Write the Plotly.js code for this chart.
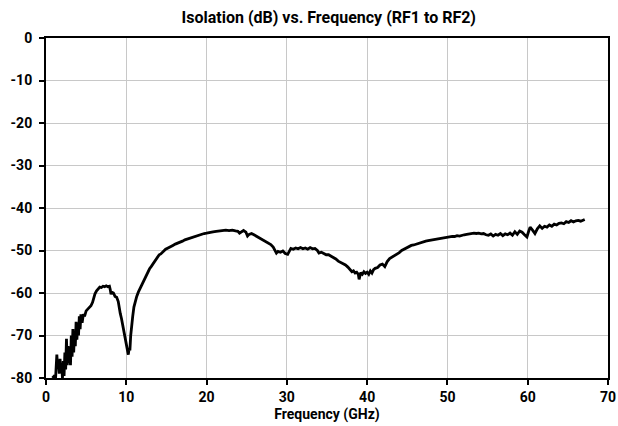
<!DOCTYPE html>
<html>
<head>
<meta charset="utf-8">
<script src="https://cdn.plot.ly/plotly-3.0.1.min.js"></script>
<style>html,body{margin:0;padding:0;background:#fff;}#chart{width:618px;height:426px;}</style>
</head>
<body>
<div id="chart"></div>
<script>
const freqGHz = [0.8,1.0,1.2,1.35,1.45,1.55,1.65,1.75,1.85,1.95,2.05,2.15,2.25,2.35,2.45,2.55,2.65,2.75,2.85,2.95,3.05,3.15,3.25,3.35,3.45,3.55,3.65,3.75,3.85,3.95,4.05,4.15,4.25,4.35,4.5,4.65,4.8,5.0,5.2,5.4,5.6,5.8,5.95,6.1,6.3,6.5,6.7,6.9,7.1,7.3,7.5,7.7,7.9,8.0,8.1,8.2,8.4,8.6,8.8,9.0,9.1,9.25,9.4,9.55,9.7,9.85,9.95,10.05,10.15,10.25,10.35,10.45,10.55,10.65,10.8,10.95,11.1,11.3,11.5,11.7,11.9,12.1,12.3,12.5,12.7,12.9,13.1,13.3,13.5,13.7,13.9,14.1,14.3,14.6,14.9,15.2,15.5,15.8,16.1,16.4,16.7,17.0,17.3,17.6,17.9,18.2,18.5,18.8,19.1,19.4,19.7,20.0,20.4,20.8,21.2,21.6,22.0,22.4,22.8,23.2,23.6,23.9,24.1,24.3,24.6,24.9,25.1,25.3,25.6,25.9,26.2,26.5,26.8,27.1,27.4,27.7,28.0,28.3,28.5,28.7,28.9,29.2,29.5,29.8,30.1,30.3,30.5,30.8,31.1,31.4,31.7,32.0,32.3,32.6,32.9,33.2,33.5,33.8,34.0,34.3,34.6,34.9,35.2,35.5,35.8,36.1,36.4,36.7,37.0,37.3,37.6,37.9,38.1,38.3,38.5,38.7,38.9,39.0,39.2,39.4,39.6,39.8,40.0,40.2,40.4,40.6,40.8,41.0,41.3,41.6,41.9,42.2,42.5,42.8,43.1,43.4,43.7,44.0,44.3,44.6,44.9,45.2,45.5,45.8,46.1,46.4,46.7,47.0,47.3,47.6,47.9,48.2,48.5,48.8,49.1,49.4,49.7,50.0,50.3,50.6,50.9,51.2,51.5,51.8,52.1,52.4,52.7,53.0,53.3,53.6,53.9,54.2,54.5,54.8,55.1,55.4,55.7,56.0,56.3,56.6,56.9,57.2,57.5,57.8,58.1,58.4,58.7,59.0,59.3,59.6,59.9,60.1,60.3,60.6,60.9,61.2,61.5,61.8,62.1,62.4,62.7,63.0,63.3,63.6,63.9,64.2,64.5,64.8,65.1,65.4,65.7,66.0,66.3,66.6,66.9,67.1];
const isolationDb = [-80,-79.6,-79.8,-74.5,-77.5,-76,-79,-75.5,-78.5,-77,-80,-76,-79.5,-74,-78,-70.8,-77,-72.5,-76.5,-73,-77,-70,-75,-68.5,-74,-69,-72.5,-66.8,-71,-67,-70,-65.5,-68.5,-65,-67,-65,-65.5,-64.2,-63.8,-63.5,-63,-62.2,-61,-60.2,-59.5,-59,-58.6,-58.7,-58.4,-58.5,-58.3,-58.5,-58.4,-59.2,-60.3,-59.8,-60,-60.8,-61,-62,-63.5,-64.8,-66,-67.5,-69,-70.5,-71.5,-72.5,-74,-74.5,-73,-73.5,-70,-67.5,-65.5,-63.3,-62,-60.8,-59.8,-59,-58.3,-57.3,-56.3,-55.7,-55,-54.3,-53.8,-53.2,-52.6,-52,-51.5,-51,-50.8,-50.2,-49.7,-49.4,-49,-48.8,-48.5,-48.3,-48,-47.8,-47.5,-47.3,-47.1,-46.9,-46.7,-46.5,-46.3,-46.2,-46,-45.9,-45.7,-45.6,-45.5,-45.4,-45.3,-45.2,-45.3,-45.2,-45.4,-45.5,-45.9,-45.6,-45.3,-45.7,-46.6,-46.2,-46,-46.3,-46.6,-46.9,-47.3,-47.6,-47.9,-48.3,-48.6,-49.2,-49.9,-50.6,-50.2,-50.4,-50.1,-50.7,-50.9,-50.2,-49.5,-49.7,-49.4,-49.6,-49.3,-49.6,-49.4,-49.7,-49.3,-49.6,-49.5,-50,-50.6,-50.4,-50.7,-51,-51,-51.3,-51.7,-52,-52.5,-52.8,-53.1,-53.4,-53.9,-54.5,-55,-54.8,-55.3,-55.1,-55.6,-56.8,-55.2,-55.6,-55,-55.4,-55.1,-55.6,-54.8,-55.3,-54.5,-54.2,-54,-53.4,-53.2,-53.8,-52.6,-51.9,-51.6,-51.2,-51,-50.5,-50,-49.7,-49.3,-49,-48.8,-48.7,-48.5,-48.3,-48.1,-48,-47.8,-47.7,-47.6,-47.4,-47.4,-47.3,-47.1,-47.1,-46.9,-46.9,-46.8,-46.7,-46.7,-46.5,-46.6,-46.4,-46.3,-46.2,-46.1,-46,-45.9,-46,-45.9,-46.1,-46,-46.3,-46.4,-46.1,-46.6,-46.2,-46.4,-46,-46.5,-46.1,-46.3,-45.9,-46.4,-45.6,-46.2,-45.4,-45.7,-46.3,-46.8,-45.6,-44.5,-45.2,-46,-44.9,-44.2,-44.8,-44.3,-44.5,-44,-44.3,-43.8,-44,-43.6,-43.5,-43.7,-43.2,-43.4,-43,-43.3,-43,-42.9,-43.1,-42.8,-42.7];
const xTicks = [0,10,20,30,40,50,60,70];
const yTicks = [0,-10,-20,-30,-40,-50,-60,-70,-80];

const font = {family: 'Roboto, "Liberation Sans", sans-serif', size: 14, color: '#000', weight: 700};

Plotly.newPlot('chart', [{
  x: freqGHz, y: isolationDb, type: 'scatter', mode: 'lines',
  line: {color: '#000', width: 2.8}, hoverinfo: 'skip'
}], {
  width: 618, height: 426,
  margin: {l: 46, r: 10, t: 38, b: 48, pad: 0},
  paper_bgcolor: '#fff', plot_bgcolor: '#fff',
  showlegend: false,
  font: font,
  title: {text: 'Isolation (dB) vs. Frequency (RF1 to RF2)', font: {family: font.family, size: 16, color: '#000', weight: 700},
          x: 0.532, xanchor: 'center', y: 0.958, yanchor: 'middle', yref: 'container'},
  xaxis: {range: [0, 70], tickvals: xTicks, ticktext: xTicks.map(String), showgrid: true, gridcolor: '#c8c8c8', gridwidth: 1,
          showline: true, linecolor: '#000', linewidth: 2, mirror: true, ticks: 'outside', ticklen: 5, tickcolor: '#000', tickwidth: 2,
          zeroline: false, tickfont: font,
          title: {text: 'Frequency (GHz)', font: font, standoff: 5}, automargin: false},
  yaxis: {range: [-80, 0], tickvals: yTicks, ticktext: yTicks.map(String), showgrid: true, gridcolor: '#c8c8c8', gridwidth: 1,
          showline: true, linecolor: '#000', linewidth: 2, mirror: true, ticks: 'outside', ticklen: 5, tickcolor: '#000', tickwidth: 2,
          zeroline: false, tickfont: font, ticklabelstandoff: 4, automargin: false}
}, {displayModeBar: false, staticPlot: true});
</script>
</body>
</html>
